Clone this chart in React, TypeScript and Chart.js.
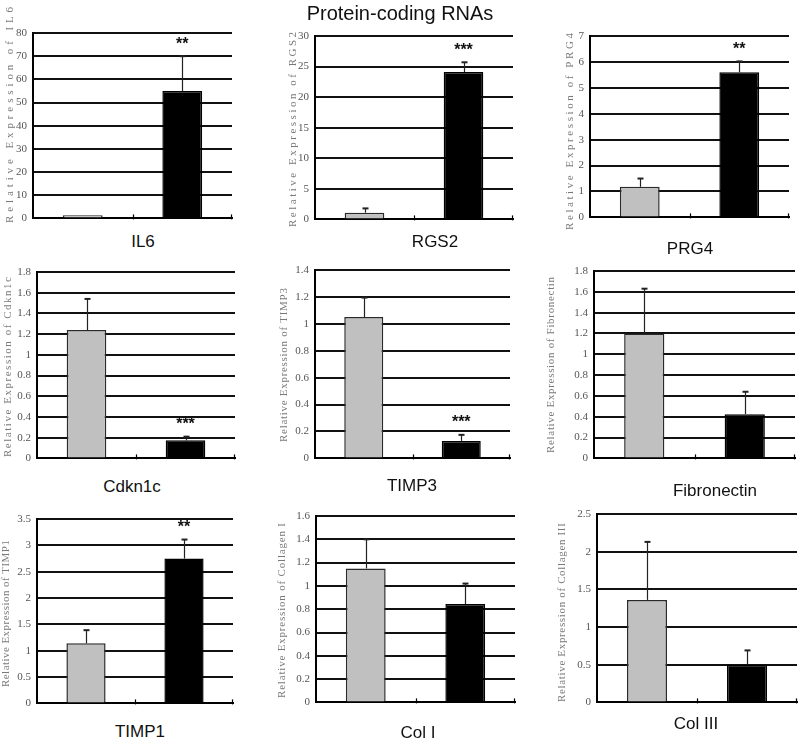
import React, { useEffect, useRef } from 'react';
import { Chart, registerables } from 'chart.js';

Chart.register(...registerables);

// ---------- data ----------
const panelNames = ['IL6', 'RGS2', 'PRG4', 'Cdkn1c', 'TIMP3', 'Fibronectin', 'TIMP1', 'Col I', 'Col III'];
const axisGenes = ['IL6', 'RGS2', 'PRG4', 'Cdkn1c', 'TIMP3', 'Fibronectin', 'TIMP1', 'Collagen I', 'Collagen III'];
const groups = ['Control', 'Treatment'];
const controlMeans = [1.4, 1.1, 1.18, 1.24, 1.05, 1.2, 1.14, 1.15, 1.36];
const controlErrors = [0, 0.7, 0.32, 0.3, 0.145, 0.43, 0.25, 0.25, 0.77];
const treatedMeans = [55, 24.1, 5.6, 0.175, 0.13, 0.425, 2.75, 0.845, 0.5];
const treatedErrors = [15, 1.6, 0.42, 0.035, 0.045, 0.215, 0.36, 0.175, 0.19];
const yMaxima = [80, 30, 7, 1.8, 1.4, 1.8, 3.5, 1.6, 2.5];
const yTickSteps = [10, 5, 1, 0.2, 0.2, 0.2, 0.5, 0.2, 0.5];
const significance = ['**', '***', '**', '***', '***', '', '**', '', ''];
const mainTitle = 'Protein-coding RNAs';

// ---------- layout (positions / sizes only) ----------
// L,T,R,B: plot area; tx,ty: y-title centre; tlen: y-title length; lx,ly: x-label centre
const layout = [
  { L: 33, T: 33, R: 232, B: 221, tx: 10, ty: 115, tlen: 216, lx: 143, ly: 241 },
  { L: 315, T: 36, R: 513, B: 222, tx: 293, ty: 129.5, tlen: 195, lx: 435, ly: 241 },
  { L: 590, T: 36, R: 789, B: 220, tx: 570, ty: 131.5, tlen: 197, lx: 690, ly: 248 },
  { L: 37, T: 272, R: 235, B: 461, tx: 8, ty: 367, tlen: 180, lx: 132, ly: 486 },
  { L: 315, T: 270, R: 510, B: 461, tx: 284, ty: 365, tlen: 154, lx: 412, ly: 485 },
  { L: 594, T: 271, R: 795, B: 461, tx: 551, ty: 365, tlen: 176, lx: 715, ly: 490 },
  { L: 37, T: 519, R: 233, B: 706, tx: 6, ty: 613.5, tlen: 147, lx: 140, ly: 731 },
  { L: 316, T: 516, R: 515, B: 705, tx: 282, ty: 610.5, tlen: 175, lx: 418, ly: 732 },
  { L: 597, T: 514, R: 797, B: 705, tx: 562, ty: 612.5, tlen: 179, lx: 696, ly: 723 },
];

const XAXIS_H = 10;
const RIGHT_PAD = 2;

function fmtTick(v: any) {
  return String(Number(Number(v).toFixed(3)));
}

function Panel({ idx }: { idx: number }) {
  const ref = useRef<HTMLCanvasElement | null>(null);
  const lay = layout[idx];
  const canvasLeft = Math.max(0, Math.min(lay.L - 40, lay.tx - 8));
  const canvasTop = Math.max(0, Math.min(lay.T - 20, Math.floor(lay.ty - lay.tlen / 2 - 6)));
  const topPad = lay.T - canvasTop;
  const yAxisW = lay.L - canvasLeft;
  const width = yAxisW + (lay.R - lay.L) + RIGHT_PAD;
  const height = lay.B - canvasTop + XAXIS_H;

  useEffect(() => {
    if (!ref.current) return;
    const means = [controlMeans[idx], treatedMeans[idx]];
    const errs = [controlErrors[idx], treatedErrors[idx]];
    const sigs = ['', significance[idx]];

    const deco = {
      id: 'deco' + idx,
      afterDatasetsDraw(chart: any) {
        const ctx = chart.ctx;
        const ys = chart.scales.y;
        const area = chart.chartArea;
        const meta = chart.getDatasetMeta(0);
        ctx.save();
        // error bars
        meta.data.forEach((bar: any, i: number) => {
          const e = errs[i];
          const top = ys.getPixelForValue(means[i] + e);
          const x = Math.round(bar.x) + 0.5;
          if (e > 0) {
            ctx.strokeStyle = '#222';
            ctx.lineWidth = 1.2;
            ctx.beginPath();
            ctx.moveTo(x, bar.y);
            ctx.lineTo(x, top);
            ctx.stroke();
            ctx.lineWidth = 2;
            ctx.beginPath();
            ctx.moveTo(x - 3, top);
            ctx.lineTo(x + 3, top);
            ctx.stroke();
          }
          if (sigs[i]) {
            ctx.fillStyle = '#111';
            ctx.font = 'bold 16px "Liberation Sans", Arial, sans-serif';
            ctx.textAlign = 'center';
            ctx.textBaseline = 'middle';
            ctx.fillText(sigs[i], bar.x, top - 12);
          }
        });
        // small x tick marks
        ctx.strokeStyle = '#000';
        ctx.lineWidth = 1.2;
        const midX = Math.round((meta.data[0].x + meta.data[1].x) / 2) + 0.5;
        [midX, Math.round(area.right) - 0.5].forEach((x: number) => {
          ctx.beginPath();
          ctx.moveTo(x, area.bottom - 4);
          ctx.lineTo(x, area.bottom + 1);
          ctx.stroke();
        });
        // y-axis title
        const text = 'Relative Expression of ' + axisGenes[idx];
        ctx.font = '11px "Liberation Serif", "DejaVu Serif", serif';
        (ctx as any).letterSpacing = '0px';
        const w = ctx.measureText(text).width;
        const n = text.length;
        const sp = Math.max(0, (lay.tlen - w) / (n - 1));
        (ctx as any).letterSpacing = sp.toFixed(2) + 'px';
        ctx.translate(lay.tx - canvasLeft, lay.ty - canvasTop);
        ctx.rotate(-Math.PI / 2);
        ctx.fillStyle = '#7a7a7a';
        ctx.textAlign = 'left';
        ctx.textBaseline = 'middle';
        ctx.fillText(text, -lay.tlen / 2, 0);
        ctx.restore();
      },
    };

    const chart = new Chart(ref.current, {
      type: 'bar',
      data: {
        labels: groups,
        datasets: [
          {
            data: means,
            backgroundColor: ['#c0c0c0', '#000000'],
            borderColor: ['#2a2a2a', '#000000'],
            borderWidth: 1.5,
            barPercentage: 0.4,
            categoryPercentage: 1,
          },
        ],
      },
      options: {
        responsive: false,
        animation: false,
        layout: { padding: { top: topPad, right: RIGHT_PAD, left: 0, bottom: 0 } },
        plugins: {
          legend: { display: false },
          tooltip: { enabled: false },
          title: { display: false },
        },
        scales: {
          x: {
            grid: { display: false },
            ticks: { display: false },
            border: { color: '#000', width: 2 },
            afterFit: (s: any) => {
              s.height = XAXIS_H;
            },
          },
          y: {
            min: 0,
            max: yMaxima[idx],
            ticks: {
              stepSize: yTickSteps[idx],
              color: '#555',
              padding: 6,
              font: { family: '"Liberation Serif", "DejaVu Serif", serif', size: 11 },
              callback: (v: any) => fmtTick(v),
            },
            grid: { color: '#111', lineWidth: 2, drawTicks: false },
            border: { color: '#000', width: 2 },
            afterFit: (s: any) => {
              s.width = yAxisW;
            },
          },
        },
      },
      plugins: [deco],
    });
    return () => chart.destroy();
  }, [idx]);

  return (
    <>
      <canvas
        ref={ref}
        width={width}
        height={height}
        style={{ position: 'absolute', left: canvasLeft, top: canvasTop, width, height }}
      />
      <div
        style={{
          position: 'absolute',
          left: lay.lx,
          top: lay.ly,
          transform: 'translate(-50%, -50%)',
          font: '17px "Liberation Sans", Arial, sans-serif',
          lineHeight: 1,
          color: '#111',
          whiteSpace: 'nowrap',
        }}
      >
        {panelNames[idx]}
      </div>
    </>
  );
}

export default function App() {
  return (
    <div
      style={{
        position: 'absolute',
        left: 0,
        top: 0,
        width: 800,
        height: 743,
        background: '#fff',
        overflow: 'hidden',
      }}
    >
      <div
        style={{
          position: 'absolute',
          left: 400,
          top: 13,
          transform: 'translate(-50%, -50%)',
          font: '20px "Liberation Sans", Arial, sans-serif',
          lineHeight: 1,
          color: '#111',
          whiteSpace: 'nowrap',
          zIndex: 2,
        }}
      >
        {mainTitle}
      </div>
      {panelNames.map((_, i) => (
        <Panel key={i} idx={i} />
      ))}
    </div>
  );
}
